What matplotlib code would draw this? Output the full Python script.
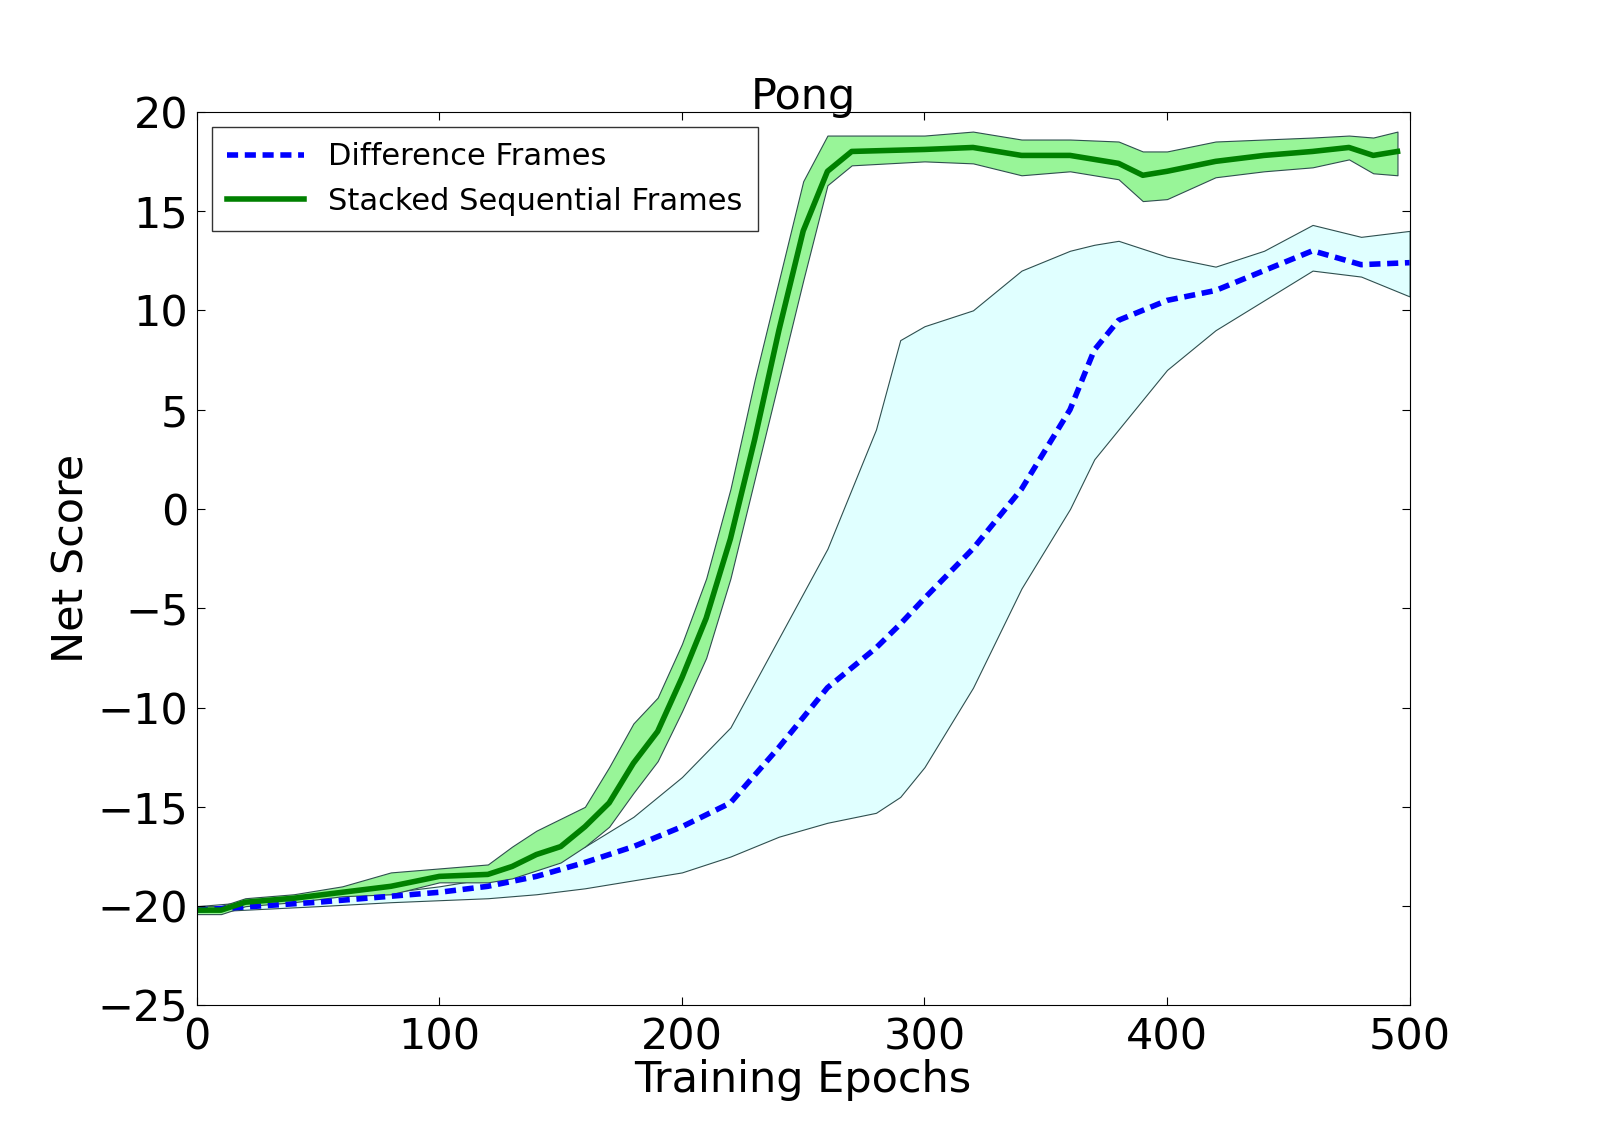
import numpy as np
import matplotlib.pyplot as plt

# stacked sequential frames (green)
g_ep = [0, 10, 20, 40, 60, 80, 100, 120, 130, 140, 150, 160, 170, 180, 190, 200, 210, 220,
        230, 240, 250, 260, 270, 300, 320, 340, 360, 380, 390, 400, 420, 440, 460, 475, 485, 495]
g_mean = [-20.2, -20.2, -19.8, -19.6, -19.3, -19.0, -18.5, -18.4, -18.0, -17.4, -17.0, -16.0,
          -14.8, -12.8, -11.2, -8.5, -5.5, -1.5, 3.5, 9.0, 14.0, 17.0, 18.0, 18.1, 18.2, 17.8,
          17.8, 17.4, 16.8, 17.0, 17.5, 17.8, 18.0, 18.2, 17.8, 18.0]
g_up = [-20.0, -20.0, -19.6, -19.4, -19.0, -18.3, -18.1, -17.9, -17.0, -16.2, -15.6, -15.0,
        -13.0, -10.8, -9.5, -6.8, -3.5, 1.0, 6.5, 11.5, 16.5, 18.8, 18.8, 18.8, 19.0, 18.6,
        18.6, 18.5, 18.0, 18.0, 18.5, 18.6, 18.7, 18.8, 18.7, 19.0]
g_lo = [-20.4, -20.4, -20.0, -19.8, -19.5, -19.4, -18.8, -18.8, -18.6, -18.2, -17.8, -17.0,
        -16.0, -14.3, -12.7, -10.2, -7.5, -3.5, 1.5, 6.5, 11.5, 16.3, 17.3, 17.5, 17.4, 16.8,
        17.0, 16.6, 15.5, 15.6, 16.7, 17.0, 17.2, 17.6, 16.9, 16.8]

# difference frames (blue)
b_ep = [0, 50, 80, 100, 120, 140, 160, 180, 200, 220, 240, 260, 280, 290, 300, 320, 340,
        360, 370, 380, 400, 420, 440, 460, 480, 500]
b_mean = [-20.2, -19.8, -19.5, -19.3, -19.0, -18.5, -17.8, -17.0, -16.0, -14.8, -12.0, -9.0,
          -7.0, -5.8, -4.5, -2.0, 1.0, 5.0, 8.0, 9.5, 10.5, 11.0, 12.0, 13.0, 12.3, 12.4]
b_up = [-20.0, -19.5, -19.3, -19.0, -18.6, -18.0, -17.0, -15.5, -13.5, -11.0, -6.5, -2.0,
        4.0, 8.5, 9.2, 10.0, 12.0, 13.0, 13.3, 13.5, 12.7, 12.2, 13.0, 14.3, 13.7, 14.0]
b_lo = [-20.3, -20.0, -19.8, -19.7, -19.6, -19.4, -19.1, -18.7, -18.3, -17.5, -16.5, -15.8,
        -15.3, -14.5, -13.0, -9.0, -4.0, 0.0, 2.5, 4.0, 7.0, 9.0, 10.5, 12.0, 11.7, 10.7]

fig = plt.figure(figsize=(16, 11.4), dpi=100)
ax = fig.add_axes([0.123, 0.118, 0.758, 0.784])

ax.fill_between(b_ep, b_lo, b_up, facecolor='#e0ffff', edgecolor='#2f4f4f', linewidth=0.8)
ax.fill_between(g_ep, g_lo, g_up, facecolor='#98f598', edgecolor='#2f4f4f', linewidth=0.8)
ax.plot(b_ep, b_mean, color='blue', linestyle=':', linewidth=4, dashes=(2, 1.2),
        label='Difference Frames')
ax.plot(g_ep, g_mean, color='green', linewidth=4, label='Stacked Sequential Frames')

ax.set_xlim(0, 500)
ax.set_ylim(-25, 20)
ax.set_xticks([0, 100, 200, 300, 400, 500])
ax.set_yticks([-25, -20, -15, -10, -5, 0, 5, 10, 15, 20])
ax.tick_params(labelsize=31, direction='in', length=6, top=True, right=True)
ax.tick_params(axis='x', pad=8)
ax.tick_params(axis='y', pad=6)
ax.set_xlabel('Training Epochs', fontsize=31, labelpad=0)
ax.set_ylabel('Net Score', fontsize=31)
ax.set_title('Pong', fontsize=31, pad=2)
leg = ax.legend(loc='upper left', fontsize=22, fancybox=False, handlelength=2.5,
                borderpad=0.5, edgecolor='black')
leg.get_frame().set_linewidth(1)

fig.savefig('out.png')
